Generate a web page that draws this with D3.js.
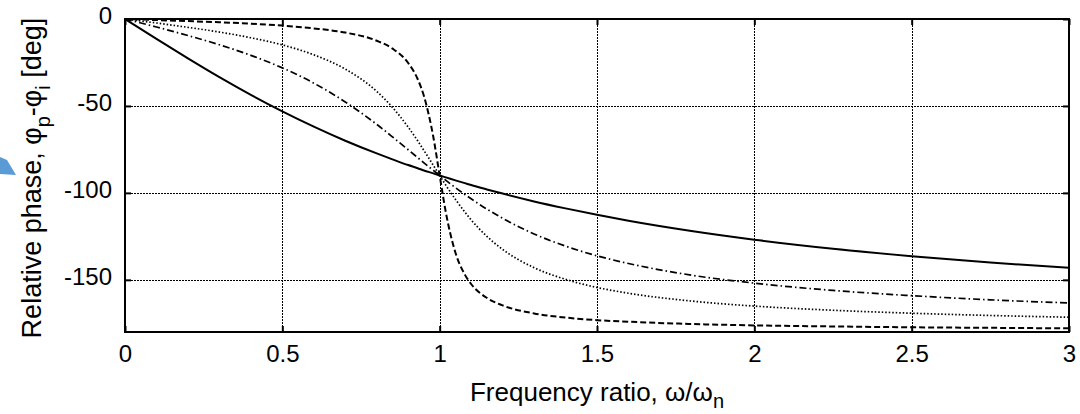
<!DOCTYPE html>
<html>
<head>
<meta charset="utf-8">
<script src="https://cdn.jsdelivr.net/npm/d3@7"></script>
<style>
  html, body { margin: 0; padding: 0; background: #fff; }
  svg { display: block; }
  text { font-family: "Liberation Sans", Arial, sans-serif; fill: #000; }
</style>
</head>
<body>
<div id="chart"></div>
<script>
// frequency ratio samples (x) shared by every curve
var ratio = [0, 0.1, 0.2, 0.3, 0.4, 0.5, 0.6, 0.7, 0.8, 0.85, 0.9, 0.93, 0.95, 0.98, 1,
  1.02, 1.05, 1.08, 1.1, 1.15, 1.2, 1.3, 1.4, 1.5, 1.6, 1.8, 2, 2.25, 2.5, 2.75, 3];

// relative phase [deg]
var phaseSolid = [0, -11.4, -22.6, -33.4, -43.6, -53.1, -61.9, -70, -77.3, -80.7, -84, -85.8, -87.1, -88.8, -90,
  -91.1, -92.8, -94.4, -95.5, -98, -100.4, -104.9, -108.9, -112.6, -116, -121.9, -126.9, -132.1, -136.4, -140.1, -143.1];
var phaseDashDot = [0, -4.6, -9.5, -14.8, -20.9, -28.1, -36.9, -47.7, -60.6, -67.8, -75.2, -79.7, -82.7, -87.1, -90,
  -92.8, -97, -100.9, -103.4, -109.3, -114.6, -123.6, -130.6, -136.2, -140.6, -147.3, -151.9, -156.1, -159.1, -161.5, -163.3];
var phaseDotted = [0, -2.3, -4.8, -7.5, -10.8, -14.9, -20.6, -28.8, -41.6, -50.8, -62.2, -70, -75.6, -84.2, -90,
  -95.7, -103.7, -111, -115.5, -125, -132.5, -143, -149.7, -154.4, -157.7, -162.2, -165.1, -167.5, -169.2, -170.5, -171.5];
var phaseDashed = [0, -0.6, -1.2, -1.9, -2.7, -3.8, -5.4, -7.8, -12.5, -17, -25.3, -34.5, -44.3, -68, -90,
  -111.6, -134.3, -147, -152.4, -160.4, -164.7, -169.3, -171.7, -173.2, -174.1, -175.4, -176.2, -176.8, -177.3, -177.6, -177.9];

var xTicks = [0, 0.5, 1, 1.5, 2, 2.5, 3];
var yTicks = [-150, -100, -50, 0];

var width = 1080, height = 414;
var plot = { left: 125, right: 1069, top: 19, bottom: 332 };

var svg = d3.select('#chart').append('svg')
  .attr('width', width)
  .attr('height', height);

var x = d3.scaleLinear().domain([0, 3]).range([plot.left, plot.right]);
var y = d3.scaleLinear().domain([-180, 0]).range([plot.bottom, plot.top]);
var px = function(v) { return Math.round(v) + 0.5; };

// dotted grid
var grid = svg.append('g').attr('class', 'grid')
  .attr('stroke', '#000').attr('stroke-width', 1.5).attr('stroke-dasharray', '1.5,1.5')
  .attr('shape-rendering', 'crispEdges');
grid.selectAll('line.gx').data(xTicks.filter(function(d) { return d > 0 && d < 3; }))
  .enter().append('line')
  .attr('x1', function(d) { return px(x(d)); }).attr('x2', function(d) { return px(x(d)); })
  .attr('y1', plot.top).attr('y2', plot.bottom);
grid.selectAll('line.gy').data(yTicks.filter(function(d) { return d < 0; }))
  .enter().append('line')
  .attr('y1', function(d) { return px(y(d)); }).attr('y2', function(d) { return px(y(d)); })
  .attr('x1', plot.left).attr('x2', plot.right);

// curves
svg.append('clipPath').attr('id', 'clip').append('rect')
  .attr('x', plot.left).attr('y', plot.top)
  .attr('width', plot.right - plot.left).attr('height', plot.bottom - plot.top);

var series = [
  { values: phaseSolid, dash: null, w: 2 },
  { values: phaseDashDot, dash: '7,3,1.5,3', w: 1.7 },
  { values: phaseDotted, dash: '1.5,2', w: 1.7 },
  { values: phaseDashed, dash: '6,3', w: 2 }
];

var line = d3.line()
  .x(function(d) { return x(d[0]); })
  .y(function(d) { return y(d[1]); })
  .curve(d3.curveMonotoneX);

svg.append('g').attr('clip-path', 'url(#clip)')
  .selectAll('path').data(series).enter().append('path')
  .attr('fill', 'none')
  .attr('stroke', '#000')
  .attr('stroke-width', function(d) { return d.w; })
  .attr('stroke-dasharray', function(d) { return d.dash; })
  .attr('d', function(d) { return line(d3.zip(ratio, d.values)); });

// axes with inward ticks
var fmt = function(d) { return String(d); };
var axB = svg.append('g').attr('transform', 'translate(0,' + plot.bottom + ')')
  .call(d3.axisBottom(x).tickValues(xTicks).tickSize(-6).tickPadding(13).tickFormat(fmt));
var axL = svg.append('g').attr('transform', 'translate(' + plot.left + ',0)')
  .call(d3.axisLeft(y).tickValues(yTicks).tickSize(-6).tickPadding(13).tickFormat(fmt));
var axT = svg.append('g').attr('transform', 'translate(0,' + plot.top + ')')
  .call(d3.axisTop(x).tickValues(xTicks).tickSize(-6).tickFormat(''));
var axR = svg.append('g').attr('transform', 'translate(' + plot.right + ',0)')
  .call(d3.axisRight(y).tickValues(yTicks).tickSize(-6).tickFormat(''));

[axB, axL, axT, axR].forEach(function(a) {
  a.select('.domain').remove();
  a.selectAll('.tick line').attr('stroke', '#000').attr('stroke-width', 2);
  a.selectAll('text').attr('font-size', 24).attr('font-family', '"Liberation Sans", Arial, sans-serif');
});
axL.selectAll('text').attr('dy', '0.2em');

// frame
svg.append('rect')
  .attr('x', plot.left).attr('y', plot.top)
  .attr('width', plot.right - plot.left).attr('height', plot.bottom - plot.top)
  .attr('fill', 'none').attr('stroke', '#000').attr('stroke-width', 2);

// x title
var xt = svg.append('text')
  .attr('x', (plot.left + plot.right) / 2).attr('y', 401)
  .attr('text-anchor', 'middle').attr('font-size', 26);
xt.append('tspan').text('Frequency ratio, \u03c9/\u03c9');
xt.append('tspan').attr('dy', 7).attr('font-size', 20).text('n');

// y title
var yt = svg.append('text')
  .attr('transform', 'translate(41,178) rotate(-90)')
  .attr('text-anchor', 'middle').attr('font-size', 27);
yt.append('tspan').text('Relative phase, \u03c6');
yt.append('tspan').attr('dy', 9).attr('font-size', 20).text('p');
yt.append('tspan').attr('dy', -9).text('-\u03c6');
yt.append('tspan').attr('dy', 9).attr('font-size', 20).text('i');
yt.append('tspan').attr('dy', -9).text(' [deg]');

// stray blue arrow tip at the left edge
svg.append('path')
  .attr('d', 'M0,157 L7,160 L16,175 L0,174 Z')
  .attr('fill', '#5b9bd5');
</script>
</body>
</html>
